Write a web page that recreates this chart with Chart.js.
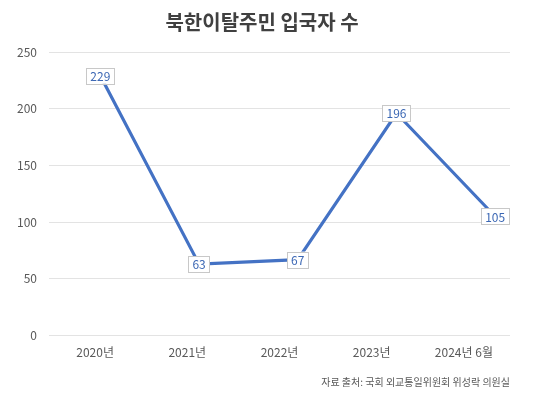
<!DOCTYPE html>
<html><head><meta charset="utf-8">
<script src="https://cdn.jsdelivr.net/npm/chart.js@4/dist/chart.umd.min.js"></script>
<style>html,body{margin:0;padding:0;background:#fff;}#wrap{width:559px;height:398px;}</style>
</head><body><div id="wrap"><canvas id="c" width="559" height="398"></canvas></div>
<script>
const categories = ["2020년", "2021년", "2022년", "2023년", "2024년 6월"];
const values = [229, 63, 67, 196, 105];
const yTicks = [0, 50, 100, 150, 200, 250];
const titleText = "북한이탈주민 입국자 수";
const sourceText = "자료 출처: 국회 외교통일위원회 위성락 의원실";

const FONT = "'Noto Sans CJK KR', 'Noto Sans', sans-serif";

const labelPlugin = {
  id: 'valueLabels',
  afterDatasetsDraw(chart) {
    const ctx = chart.ctx;
    const meta = chart.getDatasetMeta(0);
    ctx.save();
    ctx.font = "12px " + FONT;
    ctx.textAlign = 'center';
    ctx.textBaseline = 'middle';
    meta.data.forEach((el, i) => {
      const t = String(values[i]);
      const w = ctx.measureText(t).width + 8;
      const h = 16;
      ctx.fillStyle = '#ffffff';
      ctx.fillRect(el.x - w / 2, el.y - h / 2, w, h);
      ctx.strokeStyle = '#c8c8c8';
      ctx.lineWidth = 1;
      ctx.strokeRect(Math.round(el.x - w / 2) + 0.5, Math.round(el.y - h / 2) + 0.5, Math.round(w), h);
      ctx.fillStyle = '#3b67b4';
      ctx.fillText(t, el.x, el.y + 0.5);
    });
    ctx.restore();
  }
};

new Chart(document.getElementById('c'), {
  type: 'line',
  data: {
    labels: categories,
    datasets: [{
      data: values.map((v, i) => ({ x: i, y: v })),
      xAxisID: 'xd',
      borderColor: '#4472c4',
      borderWidth: 3.2,
      pointRadius: 0,
      tension: 0,
      fill: false
    }]
  },
  options: {
    responsive: false,
    animation: false,
    layout: { padding: { left: 14, right: 49, top: 8, bottom: 10 } },
    plugins: {
      legend: { display: false },
      tooltip: { enabled: false },
      title: {
        display: true, text: titleText, color: '#404040',
        font: { family: FONT, size: 20, weight: 'bold' },
        padding: { top: 2, bottom: 18 }
      },
      subtitle: {
        display: true, text: sourceText, position: 'bottom', align: 'end',
        color: '#595959', font: { family: FONT, size: 10 },
        padding: { top: 14, bottom: 0 }
      }
    },
    scales: {
      x: {
        type: 'category', offset: true,
        grid: { display: false }, border: { display: false },
        ticks: { color: '#595959', font: { family: FONT, size: 12 }, padding: 2 }
      },
      xd: {
        type: 'linear', display: false, min: -0.52, max: 4.15
      },
      y: {
        min: 0, max: 250,
        afterBuildTicks(scale) { scale.ticks = yTicks.map(v => ({ value: v })); },
        afterFit(scale) { scale.width = 35; },
        grid: { color: '#e3e3e3', drawTicks: false, lineWidth: 1 },
        border: { display: false },
        ticks: { color: '#595959', font: { family: FONT, size: 12 }, padding: 12 }
      }
    }
  },
  plugins: [labelPlugin]
});
</script></body></html>
